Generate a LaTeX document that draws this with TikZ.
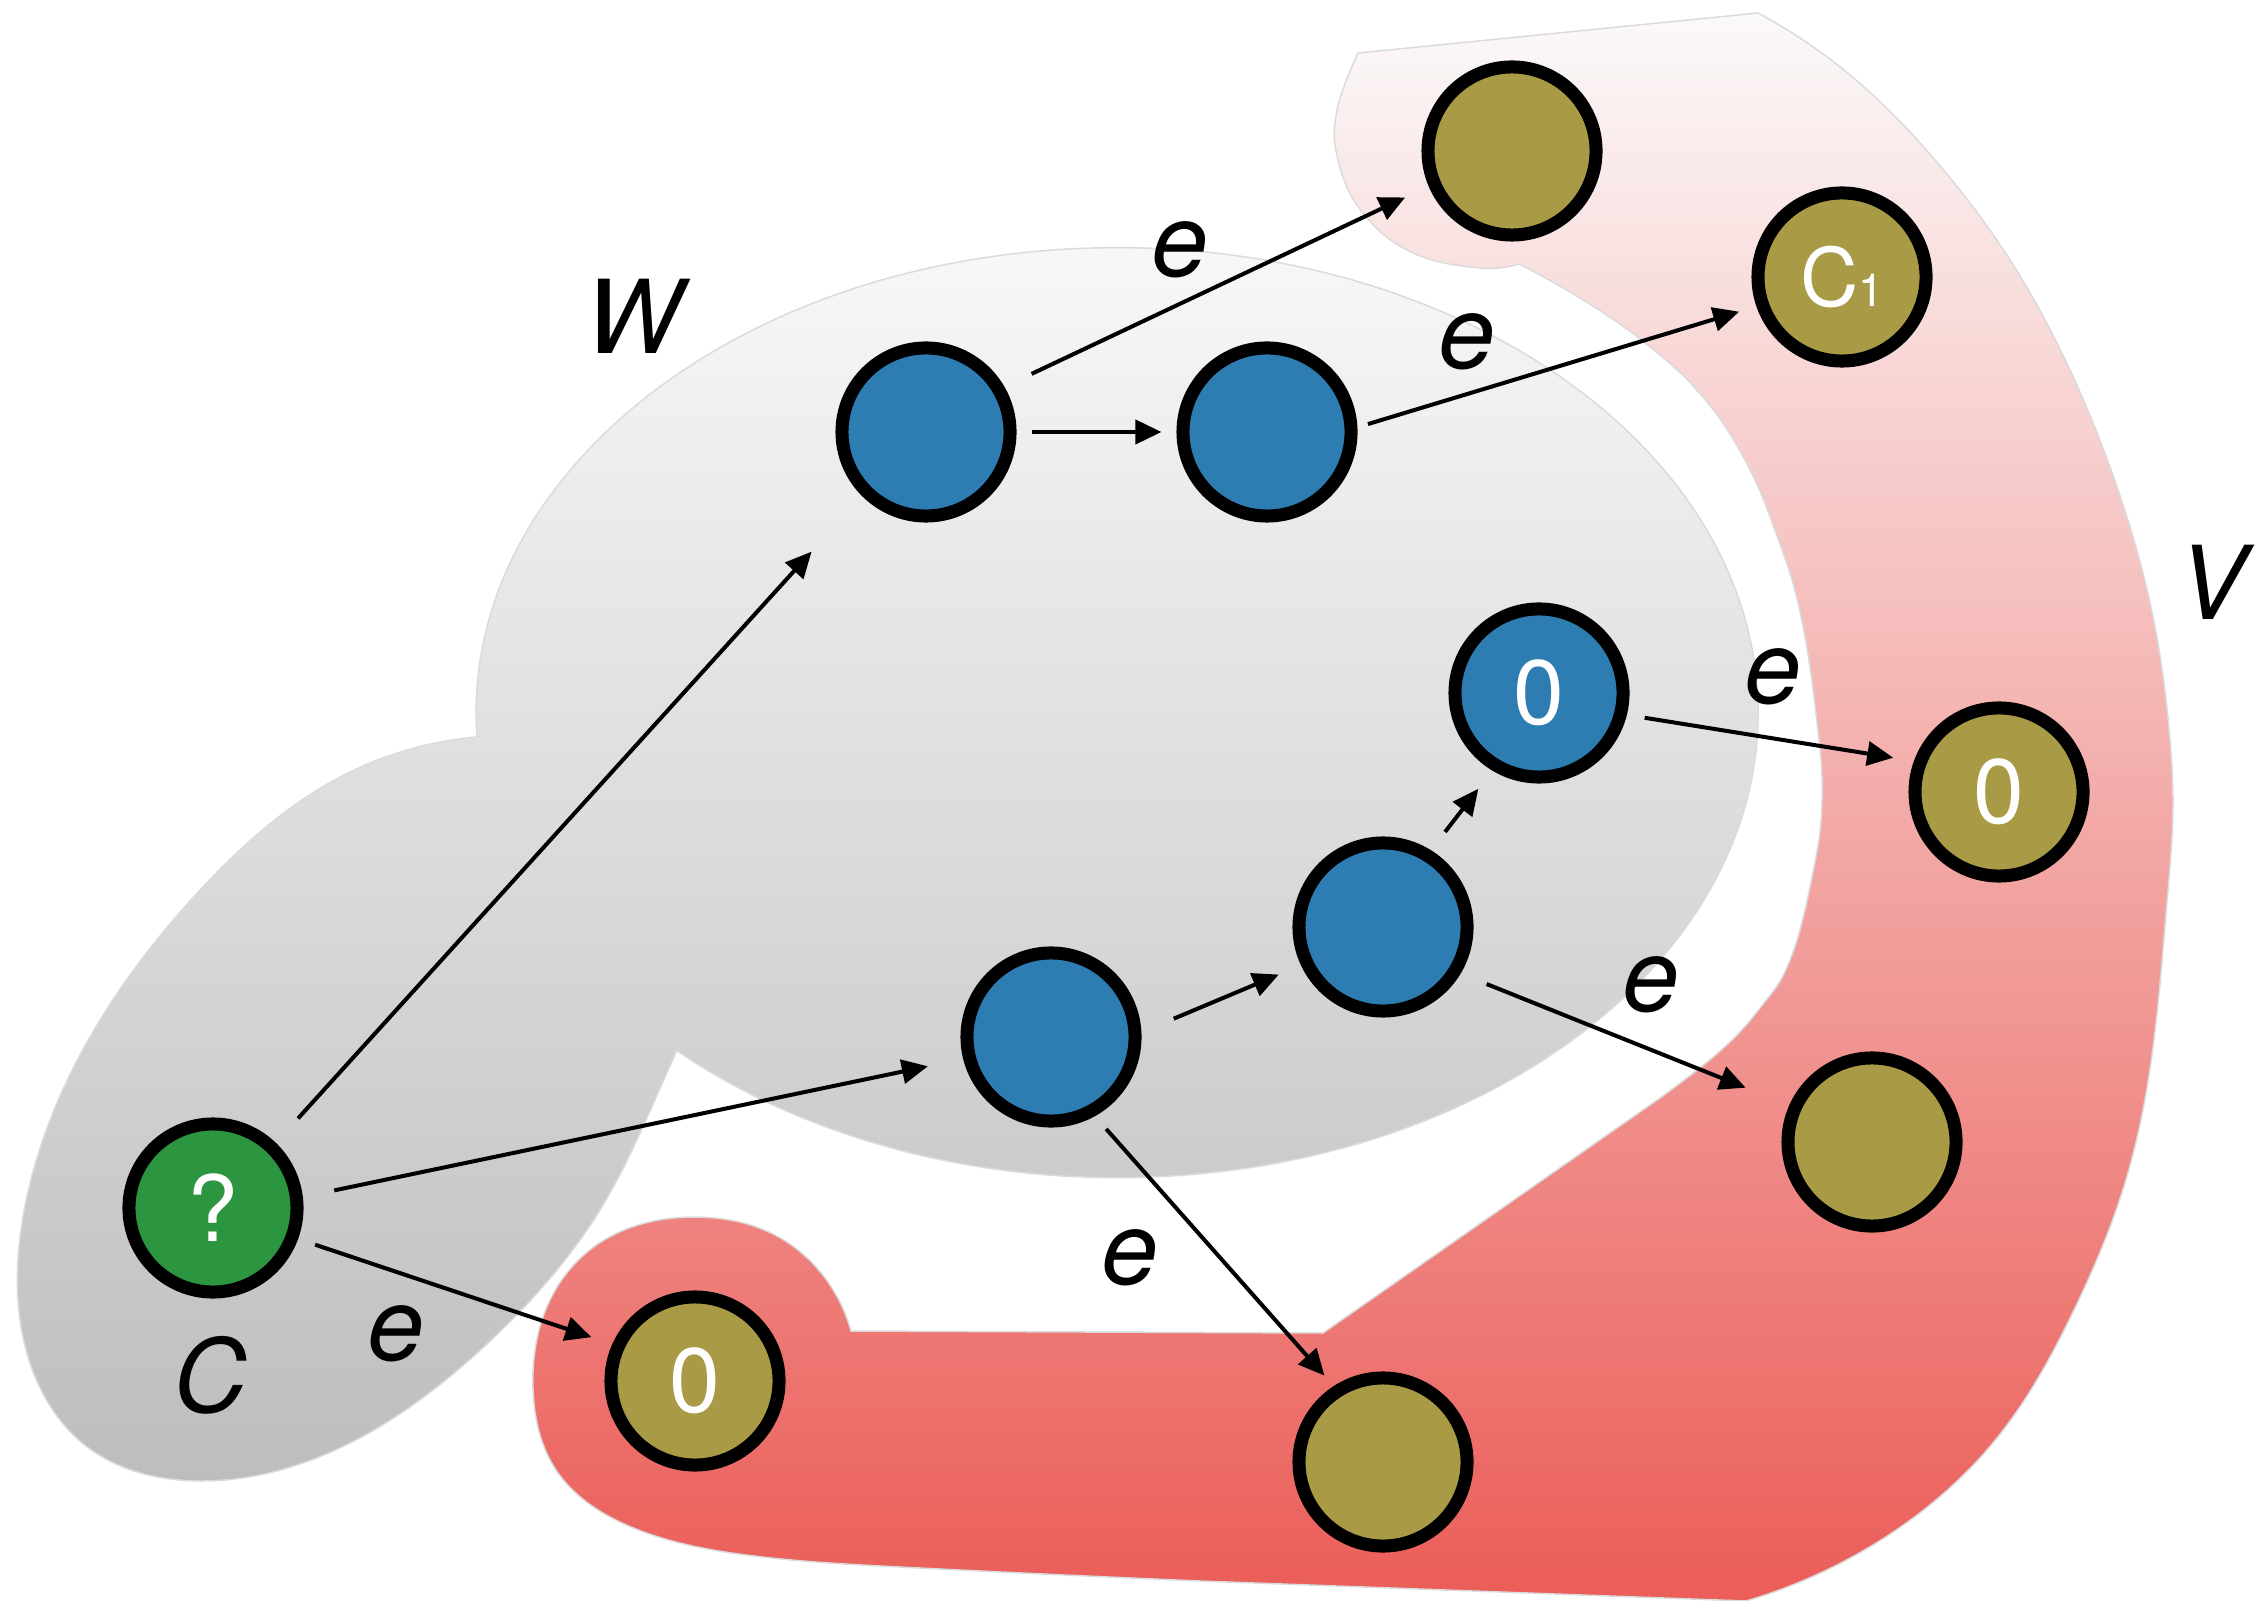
\documentclass[tikz,border=0pt]{standalone}
\usepackage{fontspec}
\setmainfont{TeX Gyre Heros}
\usepackage{tikz}
\usetikzlibrary{arrows.meta,shadows,hobby}
\usepackage{xcolor}
\definecolor{nodeblue}{HTML}{2E7DB2}
\definecolor{nodegold}{HTML}{A99A45}
\definecolor{nodegreen}{HTML}{2C953F}
\definecolor{wshadetop}{HTML}{F8F8F8}
\definecolor{wshadebottom}{HTML}{BDBDBD}
\definecolor{vshadetop}{HTML}{FBF9F9}
\definecolor{vshadebottom}{HTML}{EB5D58}
\tikzset{
  vertex/.style={circle, draw=black, line width=0.13cm, minimum size=1.68cm, inner sep=0pt,
    text=white, font=\fontsize{26}{30}\selectfont,
    drop shadow={opacity=0.3, shadow xshift=0.02cm, shadow yshift=-0.03cm}},
  bluevertex/.style={vertex, fill=nodeblue},
  goldvertex/.style={vertex, fill=nodegold},
  greenvertex/.style={vertex, fill=nodegreen},
  arrow/.style={-{Triangle[length=0.26cm, width=0.24cm]}, line width=0.04cm, draw=black},
  setlabel/.style={font=\fontsize{29}{30}\selectfont\itshape, inner sep=0pt},
  region/.style={draw=black!14, line width=0.015cm}
}

\begin{document}
\begin{tikzpicture}[x=0.01cm, y=-0.01cm]
  \useasboundingbox (0,0) rectangle (2255,1601);
  % set W: big ellipse with the lobe that holds C
  \shade[region, top color=wshadetop, bottom color=wshadebottom]
    (477,737) arc[start angle=177, end angle=493.4, x radius=641, y radius=465]
    to[curve through={(654,1102) .. (603,1205) .. (488,1343) .. (344,1446) .. (201,1481)
       .. (86,1446) .. (29,1360) .. (23,1217) .. (86,1044) .. (201,889) .. (344,775)}] (477,737)
    -- cycle;
  % set V: the band around W
  \shade[region, top color=vshadetop, bottom color=vshadebottom]
    (1358,53) -- (1758,13)
    to[curve through={(1850,75) .. (1935,160) .. (2010,260) .. (2070,370) .. (2118,490)
       .. (2152,612) .. (2170,740) .. (2173,800) .. (2167,902) .. (2152,1055) .. (2125,1183)
       .. (2074,1310) .. (1997,1438) .. (1881,1540)}] (1746,1601)
    -- (1200,1581)
    to[curve through={(900,1567) .. (746,1555) .. (631,1527) .. (556,1470) .. (533,1389)
       .. (550,1300) .. (595,1246) .. (695,1217) .. (775,1235) .. (830,1285)}] (851,1331)
    -- (1323,1333) -- (1660,1098)
    -- plot[smooth, tension=0.7] coordinates {(1660,1098) (1719,1052) (1760,1008) (1790,960)
       (1812,877) (1822,800) (1816,714) (1800,612) (1777,536) (1746,462) (1702,396) (1645,343)
       (1580,298) (1519,264)}
    -- plot[smooth, tension=0.7] coordinates {(1519,264) (1480,268) (1413,253) (1363,213)
       (1338,160) (1337,110) (1358,53)}
    -- cycle;

  \node[setlabel] (lw) at (634,316) {W};
  \node[setlabel] (lv) at (2212,582) {V};
  \node[setlabel] (lc) at (210,1375) {C};

  \node[greenvertex] (cnode) at (213,1208) {?};
  \node[bluevertex] (wa) at (926,432) {};
  \node[bluevertex] (wb) at (1267,432) {};
  \node[bluevertex] (wzero) at (1539,693) {0};
  \node[bluevertex] (wc) at (1383,927) {};
  \node[bluevertex] (wd) at (1051,1037) {};
  \node[goldvertex] (va) at (1512,151) {};
  \node[goldvertex, font=\fontsize{23}{26}\selectfont] (vcone) at (1842,277) {C{\fontsize{13}{14}\selectfont 1}};
  \node[goldvertex] (vzero) at (1999,792) {0};
  \node[goldvertex] (vb) at (1872,1142) {};
  \node[goldvertex] (vc) at (1383,1462) {};
  \node[goldvertex] (vzerob) at (695,1381) {0};

  \draw[arrow, shorten <=0.30cm, shorten >=0.26cm] (wa.30) -- (va.203);
  \draw[arrow, shorten <=0.15cm, shorten >=0.15cm] (wa) -- (wb);
  \draw[arrow, shorten <=0.11cm, shorten >=0.18cm] (wb.3) -- (vcone.199);
  \draw[arrow, shorten <=0.33cm, shorten >=0.75cm] (cnode.46) -- (wa.225);
  \draw[arrow, shorten <=0.32cm, shorten >=0.36cm] (cnode.7) -- (wd.194);
  \draw[arrow, shorten <=0.18cm, shorten >=0.22cm] (cnode.-20) -- (vzerob.156);
  \draw[arrow, shorten <=0.35cm, shorten >=0.24cm] (wd.3) -- (wc.205);
  \draw[arrow, shorten <=0.23cm, shorten >=0.23cm] (wc.58) -- (wzero.239);
  \draw[arrow, shorten <=0.18cm, shorten >=0.21cm] (wzero.-14) -- (vzero.160);
  \draw[arrow, shorten <=0.28cm, shorten >=0.47cm] (wc.-31) -- (vb.156);
  \draw[arrow, shorten <=0.17cm, shorten >=0.14cm] (wd.-61) -- (vc.123);

  % edge labels
  \node[setlabel] (ea) at (1180,250) {e};
  \node[setlabel] (eb) at (1467,342) {e};
  \node[setlabel] (ec) at (1773,677) {e};
  \node[setlabel] (ed) at (1651,985) {e};
  \node[setlabel] (ee) at (1130,1258) {e};
  \node[setlabel] (ef) at (396,1334) {e};
\end{tikzpicture}
\end{document}
